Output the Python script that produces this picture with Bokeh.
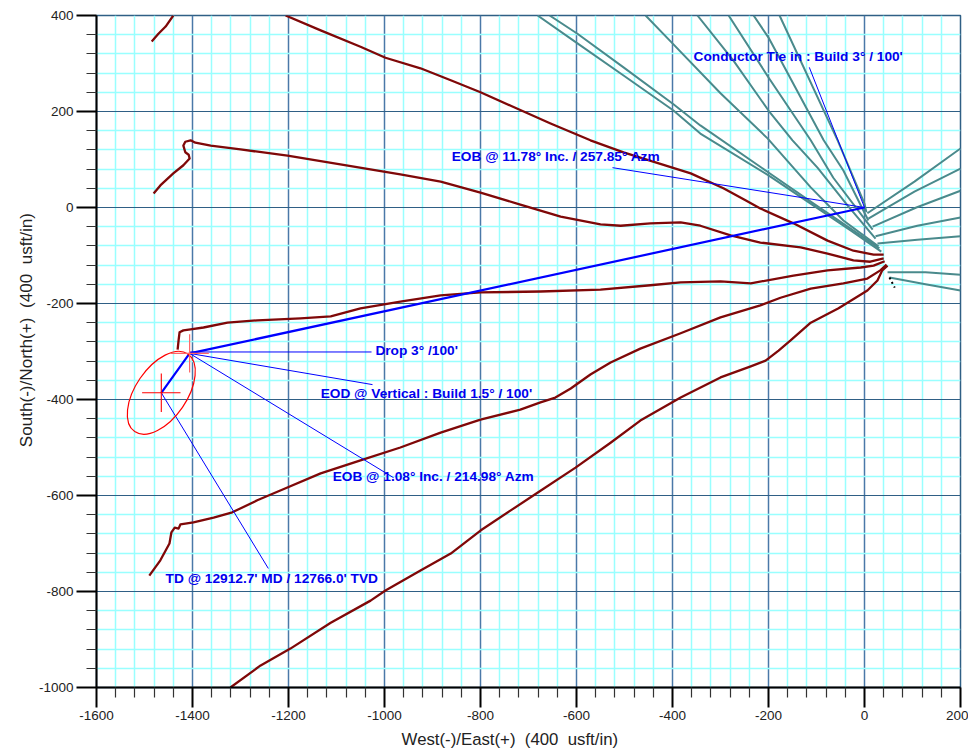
from bokeh.plotting import figure
from bokeh.embed import file_html
from bokeh.resources import INLINE
from bokeh.models import FixedTicker, Range1d, Label

major_x = [-1600, -1400, -1200, -1000, -800, -600, -400, -200, 0, 200]
major_y = [-1000, -800, -600, -400, -200, 0, 200, 400]
minor_x = [v for v in range(-1600, 201, 40) if v % 200 != 0]
minor_y = [v for v in range(-1000, 401, 40) if v % 200 != 0]

# Maroon offset wells (x, y)
w1_x = [-1440, -1456, -1471, -1485]
w1_y = [400, 377, 362, 346]
w2_x = [-1206, -1133, -1050, -998, -925, -862, -800, -737, -654, -571, -502, -362, -294, -248, -217, -148, -77, -23, 19, 40]
w2_y = [400, 369, 335, 312, 290, 265, 240, 212, 175, 140, 115, 71, 40, 15, -2, -33, -69, -90, -98, -98]
w3_x = [-1481, -1467, -1440, -1419, -1406, -1408, -1415, -1419, -1415, -1404, -1394, -1362, -1300, -1202, -1092, -967, -883, -800, -717, -633, -550, -508, -446, -383, -342, -279, -217, -133, -77, -23, 12, 40]
w3_y = [29, 46, 71, 88, 102, 110, 115, 129, 137, 140, 135, 129, 121, 108, 90, 69, 54, 31, 6, -19, -35, -38, -33, -31, -38, -58, -73, -83, -96, -110, -113, -106]
w4_x = [-1431, -1429, -1427, -1419, -1404, -1377, -1327, -1265, -1175, -1112, -1050, -967, -883, -800, -675, -550, -446, -383, -300, -237, -148, -77, -8, 19, 42]
w4_y = [-296, -277, -260, -256, -254, -250, -240, -235, -231, -227, -210, -196, -183, -177, -175, -171, -162, -156, -154, -158, -142, -131, -125, -121, -112]
w5_x = [-1490, -1467, -1448, -1444, -1437, -1429, -1425, -1398, -1356, -1317, -1265, -1206, -1133, -1050, -967, -883, -800, -717, -675, -644, -612, -571, -529, -467, -383, -300, -217, -175, -112, -44, 6, 33, 46]
w5_y = [-767, -735, -700, -677, -667, -669, -660, -656, -646, -635, -610, -585, -554, -527, -500, -469, -442, -421, -406, -396, -377, -348, -323, -294, -262, -229, -204, -188, -169, -158, -148, -131, -119]
w6_x = [-1321, -1258, -1196, -1112, -1029, -998, -925, -862, -800, -737, -675, -602, -529, -467, -383, -300, -237, -206, -179, -154, -112, -54, 6, 27, 37, 48]
w6_y = [-1000, -954, -919, -865, -819, -798, -756, -721, -673, -631, -590, -542, -490, -444, -396, -354, -331, -319, -298, -277, -240, -210, -173, -152, -131, -121]
wells = [(w1_x, w1_y), (w2_x, w2_y), (w3_x, w3_y), (w4_x, w4_y), (w5_x, w5_y), (w6_x, w6_y)]

# Teal conductor wells
ta_x = [-681, -598, -502, -398, -342, -200, -106, -29, 35]
ta_y = [400, 342, 275, 202, 154, 67, 4, -48, -92]
tb_x = [-656, -598, -502, -398, -342, -200, -106, -29, 31]
tb_y = [400, 362, 292, 215, 171, 73, 8, -44, -85]
tc_x = [-456, -400, -300, -202, -112, -44, 29]
tc_y = [400, 342, 238, 144, 42, -27, -81]
td_x = [-348, -273, -200, -150, -98, -35, 23]
td_y = [400, 306, 202, 140, 83, 4, -65]
te_x = [-283, -200, -112, -65, 17]
te_y = [400, 271, 140, 62, -46]
tf_x = [-231, -200, -85, -44, 8]
tf_y = [400, 354, 140, 77, -27]
tg_x = [-177, -56, 0, 4]
tg_y = [400, 140, 8, -10]
r1_x = [6, 104, 200]
r1_y = [-12, 54, 123]
r2_x = [8, 104, 200]
r2_y = [-23, 33, 81]
r3_x = [17, 108, 200]
r3_y = [-40, 0, 35]
r4_x = [23, 110, 200]
r4_y = [-60, -38, -21]
r5_x = [27, 110, 200]
r5_y = [-75, -67, -60]
r6_x = [48, 127, 200]
r6_y = [-135, -135, -140]
r7_x = [52, 127, 200]
r7_y = [-146, -160, -173]
teals = [(ta_x, ta_y), (tb_x, tb_y), (tc_x, tc_y), (td_x, td_y), (te_x, te_y), (tf_x, tf_y), (tg_x, tg_y),
         (r1_x, r1_y), (r2_x, r2_y), (r3_x, r3_y), (r4_x, r4_y), (r5_x, r5_y), (r6_x, r6_y), (r7_x, r7_y)]
dot_x = [52, 63]
dot_y = [-146, -167]

# Plan path and annotation leaders
plan_x = [0, -1406, -1465]
plan_y = [0, -304, -386]
leaders = [
    ([-115, 0], [292, 0]),
    ([-525, 0], [83, 0]),
    ([-1406, -1027], [-301, -301]),
    ([-1406, -1025], [-304, -369]),
    ([-1406, -981], [-304, -563]),
    ([-1465, -1242], [-386, -752]),
]
label_text = ["Conductor Tie in : Build 3\u00b0 / 100'",
              "EOB @ 11.78\u00b0 Inc. / 257.85\u00b0 Azm",
              "Drop 3\u00b0 /100'",
              "EOD @ Vertical : Build 1.5\u00b0 / 100'",
              "EOB @ 1.08\u00b0 Inc. / 214.98\u00b0 Azm",
              "TD @ 12912.7' MD / 12766.0' TVD"]
label_x = [-356, -860, -1019, -1133, -1108, -1456]
label_y = [315, 106, -298, -387, -560, -773]

NB = "\u00a0"
x_title = "West(-)/East(+)" + NB * 2 + "(400" + NB * 2 + "usft/in)" + NB * 8
y_title = NB * 9 + "South(-)/North(+)" + NB * 2 + "(400" + NB * 2 + "usft/in)"

p = figure(width=968, height=751, output_backend="svg", toolbar_location=None,
           x_range=Range1d(-1600, 200), y_range=Range1d(-1000, 400),
           min_border_left=96, min_border_right=8, min_border_top=15, min_border_bottom=64,
           x_axis_label=x_title, y_axis_label=y_title)

for ax, maj, mnr in ((p.xaxis[0], major_x, minor_x), (p.yaxis[0], major_y, minor_y)):
    ax.ticker = FixedTicker(ticks=maj, minor_ticks=mnr)
    ax.major_label_overrides = {t: str(t) for t in maj}
    ax.axis_line_color = "black"
    ax.axis_line_width = 2
    ax.major_tick_line_color = "black"
    ax.major_tick_line_width = 2
    ax.minor_tick_line_color = "#333333"
    ax.minor_tick_line_width = 1.2
    ax.major_tick_in = 0
    ax.major_tick_out = 20
    ax.minor_tick_in = 0
    ax.minor_tick_out = 10
    ax.major_label_text_font = "Liberation Sans"
    ax.major_label_text_font_size = "13.5px"
    ax.major_label_text_color = "#222222"
    ax.major_label_standoff = 3
    ax.axis_label_text_font = "Liberation Sans"
    ax.axis_label_text_font_style = "normal"
    ax.axis_label_text_font_size = "16.8px"
    ax.axis_label_text_color = "#222222"
p.xaxis[0].axis_label_standoff = 7
p.yaxis[0].axis_label_standoff = 0
p.yaxis[0].axis_label_text_font_size = "17.1px"
p.yaxis[0].major_label_orientation = "horizontal"

p.xgrid[0].ticker = FixedTicker(ticks=major_x, minor_ticks=minor_x)
p.ygrid[0].ticker = FixedTicker(ticks=major_y, minor_ticks=minor_y)
p.xgrid[0].grid_line_color = "#4a78a8"
p.xgrid[0].grid_line_width = 1.5
p.ygrid[0].grid_line_color = "#2f5f85"
p.ygrid[0].grid_line_width = 1.2
for g in (p.xgrid[0], p.ygrid[0]):
    g.minor_grid_line_color = "#99ffff"
    g.minor_grid_line_width = 1.5
p.outline_line_color = "#2f5f85"
p.outline_line_width = 1.5

for x, y in teals:
    p.line(x, y, line_color="#4a8a8c", line_width=2, line_join="round")
p.line(dot_x, dot_y, line_color="black", line_width=2, line_dash="2 3")
for x, y in wells:
    p.line(x, y, line_color="#7f0808", line_width=2.3, line_join="round")

for x, y in leaders:
    p.line(x, y, line_color="#0000ff", line_width=1)
p.line(plan_x, plan_y, line_color="#0000ff", line_width=2.2)

# Target ellipse and crosses
p.ellipse(x=[-1465], y=[-386], width=[196], height=[107], angle=[0.97], fill_color=None,
          line_color="#ff0000", line_width=1.2)
p.segment(x0=[-1505, -1465], y0=[-386, -426], x1=[-1425, -1465], y1=[-386, -346],
          line_color="#ff0000", line_width=1.1)
p.segment(x0=[-1406, -1446], y0=[-344, -304], x1=[-1406, -1366], y1=[-264, -304],
          line_color="#ff6666", line_width=1.2)

for t, x, y in zip(label_text, label_x, label_y):
    p.add_layout(Label(x=x, y=y, text=t, text_color="#0000ee", text_font="Liberation Sans",
                       text_font_style="bold", text_font_size="13.7px", text_baseline="middle"))

open("out.html", "w").write(file_html(p, INLINE))
